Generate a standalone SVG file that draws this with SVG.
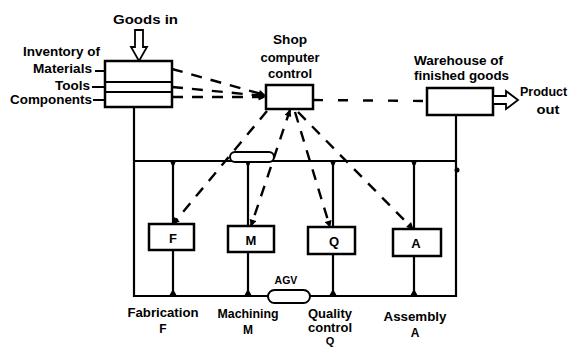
<svg xmlns="http://www.w3.org/2000/svg" width="575" height="349" viewBox="0 0 575 349">
<defs>
<style>
.box{fill:#fff;stroke:#000;stroke-width:2.5}
.bus{stroke:#000;stroke-width:2.2;fill:none}
.lead{stroke:#000;stroke-width:1.8;fill:none}
.dash{stroke:#000;stroke-width:2.4;stroke-dasharray:11 9;fill:none}
.dash2{stroke:#000;stroke-width:2.4;stroke-dasharray:10 15;fill:none}
.hollow{fill:#fff;stroke:#000;stroke-width:1.8;stroke-linejoin:miter}
.cap{fill:#fff;stroke:#000;stroke-width:2}
.tri{fill:#000}
text{font-family:"Liberation Sans",Arial,sans-serif;font-weight:bold;fill:#000;font-size:12px}
.mid{text-anchor:middle}
.big{font-size:13.5px}
.let{font-size:13px;text-anchor:middle}
</style>
<marker id="ah" viewBox="0 0 10 10" refX="9" refY="5" markerWidth="8" markerHeight="7" markerUnits="userSpaceOnUse" orient="auto-start-reverse">
<path d="M0,0 L10,5 L0,10 z" fill="#000"/>
</marker>
</defs>
<rect width="575" height="349" fill="#fff"/>

<g id="connectors">
<path class="bus" d="M134,107 V296 H268 M310,296 H456 V115 M134,161 H457"/>
<path class="bus" d="M173,161 V224 M173,250 V296 M248,161 V226 M248,252 V296 M333,161 V227 M333,254 V296 M414,161 V229 M414,256 V296"/>
<path class="tri" d="M170,161 L176,161 L173,168 z M245,161 L251,161 L248,168 z M330,161 L336,161 L333,168 z M411,161 L417,161 L414,168 z"/>
<path class="tri" d="M169,296 L177,296 L173,289 z M244,296 L252,296 L248,289 z M329,296 L337,296 L333,289 z M410,296 L418,296 L414,289 z"/>
<circle cx="457" cy="170" r="2.5" fill="#000"/>
<path class="dash" d="M172,69 L265,95" marker-end="url(#ah)"/>
<path class="dash" d="M172,87 L265,96" marker-end="url(#ah)"/>
<path class="dash" d="M172,97 L265,97" marker-end="url(#ah)"/>
<path class="dash2" d="M313,100 L427,101"/>
<path class="dash" d="M267,111 L173,224" marker-end="url(#ah)"/>
<path class="dash" d="M290,110 L251,226" marker-start="url(#ah)" marker-end="url(#ah)"/>
<path class="dash" d="M295,112 L330,227" marker-end="url(#ah)"/>
<path class="dash" d="M298,112 L413,229" marker-end="url(#ah)"/>
</g>

<g id="goods-in">
<text class="big" x="113" y="24" textLength="65" lengthAdjust="spacingAndGlyphs">Goods in</text>
<polygon class="hollow" points="135,30 143,30 143,47 147,47 139,61 131,47 135,47"/>
</g>

<g id="inventory">
<rect class="box" x="105" y="61" width="67" height="46"/>
<line class="bus" x1="105" y1="82" x2="172" y2="82" stroke-width="2.5"/>
<line class="bus" x1="105" y1="92" x2="172" y2="92" stroke-width="3"/>
<text x="23" y="56" textLength="77" lengthAdjust="spacingAndGlyphs">Inventory of</text>
<text x="33" y="73" textLength="59" lengthAdjust="spacingAndGlyphs">Materials</text>
<text x="55" y="90" textLength="35" lengthAdjust="spacingAndGlyphs">Tools</text>
<text x="10" y="104" textLength="82" lengthAdjust="spacingAndGlyphs">Components</text>
<path class="lead" d="M95,71 H105 M92,87 H105 M93,100 H105"/>
</g>

<g id="shop">
<rect class="box" x="266" y="85" width="47" height="24"/>
<text class="mid" x="290" y="44" textLength="34" lengthAdjust="spacingAndGlyphs">Shop</text>
<text class="mid" x="290" y="62" textLength="59" lengthAdjust="spacingAndGlyphs">computer</text>
<text class="mid" x="290" y="78" textLength="44" lengthAdjust="spacingAndGlyphs">control</text>
</g>

<g id="warehouse">
<rect class="box" x="427" y="88" width="66" height="27"/>
<text x="414" y="65" textLength="89" lengthAdjust="spacingAndGlyphs">Warehouse of</text>
<text x="414" y="80" textLength="95" lengthAdjust="spacingAndGlyphs">finished goods</text>
</g>

<g id="product-out">
<polygon class="hollow" points="493,96 506,96 506,91 518,100 506,109 506,104 493,104"/>
<text x="520" y="96" style="font-size:12.5px">Product</text>
<text class="mid" x="548" y="114" textLength="23" lengthAdjust="spacingAndGlyphs">out</text>
</g>

<g id="agv-top">
<rect class="cap" x="230" y="152" width="44" height="10" rx="5"/>
</g>

<g id="agv-bottom">
<rect class="cap" x="268" y="290" width="42" height="13" rx="6.5"/>
<text class="mid" x="286" y="284" style="font-size:10.5px">AGV</text>
</g>

<g id="station-f">
<rect class="box" x="149" y="224" width="45" height="26"/>
<text class="let" x="173" y="243">F</text>
<text class="mid" x="163" y="317" textLength="71" lengthAdjust="spacingAndGlyphs">Fabrication</text>
<text class="mid" x="163" y="333">F</text>
</g>

<g id="station-m">
<rect class="box" x="228" y="226" width="46" height="26"/>
<text class="let" x="251" y="245">M</text>
<text class="mid" x="248" y="318" textLength="61" lengthAdjust="spacingAndGlyphs">Machining</text>
<text class="mid" x="248" y="334">M</text>
</g>

<g id="station-q">
<rect class="box" x="308" y="227" width="47" height="27"/>
<text class="let" x="334" y="246">Q</text>
<text class="mid" x="330" y="318" textLength="44" lengthAdjust="spacingAndGlyphs">Quality</text>
<text class="mid" x="330" y="332" textLength="44" lengthAdjust="spacingAndGlyphs">control</text>
<text class="mid" x="330" y="345" style="font-size:11px">Q</text>
</g>

<g id="station-a">
<rect class="box" x="393" y="229" width="48" height="27"/>
<text class="let" x="416" y="248">A</text>
<text class="mid" x="415" y="321" textLength="63" lengthAdjust="spacingAndGlyphs">Assembly</text>
<text class="mid" x="415" y="337">A</text>
</g>
</svg>
